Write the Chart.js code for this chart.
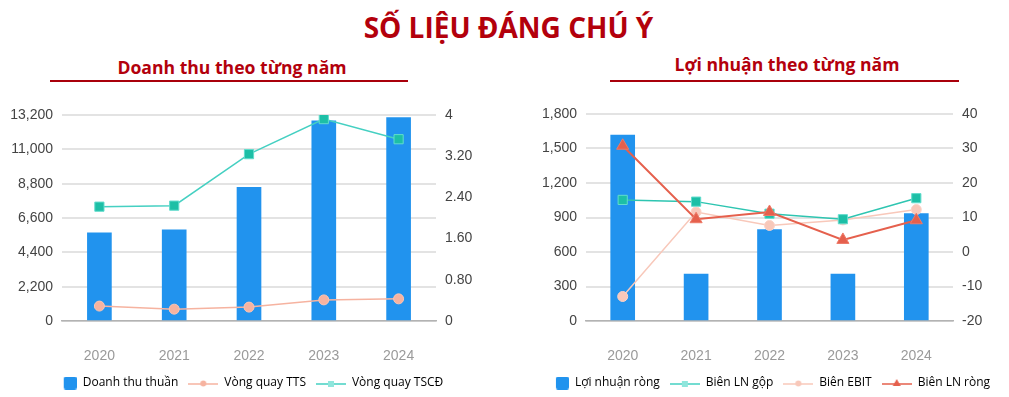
<!DOCTYPE html>
<html lang="vi">
<head>
<meta charset="utf-8">
<script src="https://cdn.jsdelivr.net/npm/chart.js@4.4.1/dist/chart.umd.min.js"></script>
<style>
  html, body { margin: 0; padding: 0; background: #fff; }
  body { width: 1009px; height: 397px; position: relative; overflow: hidden; font-family: "Open Sans", sans-serif; }
  .title { position: absolute; left: 0; width: 1017px; top: 13px; text-align: center; font-size: 28px; line-height: 28px; font-weight: 700; color: #b3000c; }
  .sub { position: absolute; font-size: 17.6px; line-height: 17px; font-weight: 700; color: #b3000c; text-align: center; }
  .rule { position: absolute; height: 2px; background: #a9000b; }
  .box { position: absolute; top: 95px; height: 304px; }
</style>
</head>
<body>
<div class="title">SỐ LIỆU ĐÁNG CHÚ Ý</div>
<div class="sub" style="left:50px;width:364px;top:59px;">Doanh thu theo từng năm</div>
<div class="rule" style="left:50px;width:358px;top:80px;"></div>
<div class="sub" style="left:610px;width:354px;top:56px;">Lợi nhuận theo từng năm</div>
<div class="rule" style="left:610px;width:349px;top:80px;"></div>

<div class="box" style="left:0;width:490px;"><canvas id="revChart"></canvas></div>
<div class="box" style="left:520px;width:489px;"><canvas id="profitChart"></canvas></div>

<script>
// data
const years = ["2020", "2021", "2022", "2023", "2024"];

const revenue = [5650, 5840, 8560, 12830, 13030];
const assetTurnover = [0.29, 0.23, 0.27, 0.41, 0.43];
const fixedAssetTurnover = [2.22, 2.24, 3.24, 3.92, 3.53];
const revLeftTicks = ["0", "2,200", "4,400", "6,600", "8,800", "11,000", "13,200"];
const revRightTicks = ["0", "0.80", "1.60", "2.40", "3.20", "4"];

const netProfit = [1617, 409, 795, 409, 934];
const grossMargin = [15.1, 14.6, 11.1, 9.5, 15.6];
const ebitMargin = [-12.9, 11.6, 7.7, 9.3, 12.3];
const netMargin = [30.8, 9.5, 11.6, 3.5, 9.2];
const profitLeftTicks = ["0", "300", "600", "900", "1,200", "1,500", "1,800"];
const profitRightTicks = ["-20", "-10", "0", "10", "20", "30", "40"];

const BLUE = "#2193ee";
const TEAL_LINE = "#45d0c2";
const TEAL_PT = "#1dbfa6";
const SALMON = "#f6b3a0";
const PINK = "#f8c8ba";
const RED = "#e5604d";

// little canvases used as legend icons
function barIcon(color) {
  const c = document.createElement("canvas");
  c.width = 30; c.height = 13;
  const g = c.getContext("2d");
  g.fillStyle = color;
  g.beginPath();
  g.roundRect(17, 0, 13, 13, 2);
  g.fill();
  return c;
}

function lineIcon(color, marker, markerColor) {
  const c = document.createElement("canvas");
  c.width = 30; c.height = 12;
  const g = c.getContext("2d");
  g.strokeStyle = color;
  g.lineWidth = 1.5;
  g.beginPath(); g.moveTo(0, 7); g.lineTo(30, 7); g.stroke();
  g.fillStyle = markerColor;
  g.beginPath();
  if (marker === "rect") g.rect(12, 4, 6, 6);
  else if (marker === "triangle") { g.moveTo(15, 2); g.lineTo(19, 9); g.lineTo(11, 9); g.closePath(); }
  else g.arc(15, 6.5, 3, 0, Math.PI * 2);
  g.fill();
  return c;
}

function legendWith(icons) {
  return {
    position: "bottom",
    labels: {
      usePointStyle: true,
      pointStyleWidth: 30,
      padding: 10,
      color: "#555",
      font: { family: "Open Sans", size: 12 },
      generateLabels: (chart) =>
        chart.data.datasets.map((ds, i) => ({
          text: ds.label,
          pointStyle: icons[i],
          fillStyle: "transparent",
          strokeStyle: "transparent",
          lineWidth: 0,
          hidden: false,
          datasetIndex: i,
        })),
    },
  };
}

function axes(leftTicks, leftMin, leftMax, leftStep, leftW, rightTicks, rightMin, rightMax, rightStep, rightW) {
  const tickFont = { family: "Liberation Sans", size: 14 };
  return {
    x: {
      grid: { display: false, drawTicks: false },
      border: { display: true, color: "#b3b3b3", width: 1.5 },
      ticks: { color: "#9a9a9a", font: tickFont, padding: 27 },
      afterFit: (s) => { s.height = 46; },
    },
    y: {
      position: "left",
      min: leftMin, max: leftMax,
      ticks: { stepSize: leftStep, padding: 9, color: "#444", font: tickFont, callback: (v, i) => leftTicks[i] },
      grid: { color: "#e3e3e3", lineWidth: 2, drawTicks: false },
      border: { display: false },
      afterFit: (s) => { s.width = leftW; },
    },
    y1: {
      position: "right",
      min: rightMin, max: rightMax,
      ticks: { stepSize: rightStep, padding: 9, color: "#444", font: tickFont, callback: (v, i) => rightTicks[i] },
      grid: { display: false, drawTicks: false },
      border: { display: false },
      afterFit: (s) => { s.width = rightW; },
    },
  };
}

new Chart(document.getElementById("revChart"), {
  type: "bar",
  data: {
    labels: years,
    datasets: [
      { label: "Doanh thu thuần", data: revenue, backgroundColor: BLUE, barThickness: 24, order: 2 },
      {
        type: "line", label: "Vòng quay TTS", data: assetTurnover, yAxisID: "y1", order: 1,
        borderColor: SALMON, borderWidth: 1.5, pointStyle: "circle", pointRadius: 5,
        pointBackgroundColor: SALMON, pointBorderColor: "#fac6b6", pointBorderWidth: 1,
      },
      {
        type: "line", label: "Vòng quay TSCĐ", data: fixedAssetTurnover, yAxisID: "y1", order: 0,
        borderColor: TEAL_LINE, borderWidth: 1.5, pointStyle: "rect", pointRadius: 6.5,
        pointBackgroundColor: TEAL_PT, pointBorderColor: "#62dccd", pointBorderWidth: 1,
      },
    ],
  },
  options: {
    responsive: true,
    maintainAspectRatio: false,
    animation: false,
    layout: { padding: { top: 20, bottom: 0, left: 0, right: 0 } },
    plugins: {
      legend: legendWith([barIcon(BLUE), lineIcon(SALMON, "circle", SALMON), lineIcon(TEAL_LINE, "rect", "#8fe6dc")]),
      tooltip: { enabled: false },
    },
    scales: axes(revLeftTicks, 0, 13200, 2200, 62, revRightTicks, 0, 4, 0.8, 54),
  },
});

new Chart(document.getElementById("profitChart"), {
  type: "bar",
  data: {
    labels: years,
    datasets: [
      { label: "Lợi nhuận ròng", data: netProfit, backgroundColor: BLUE, barThickness: 24, order: 4 },
      {
        type: "line", label: "Biên LN gộp", data: grossMargin, yAxisID: "y1", order: 2,
        borderColor: "#2ec5b1", borderWidth: 1.5, pointStyle: "rect", pointRadius: 6.5,
        pointBackgroundColor: TEAL_PT, pointBorderColor: "#62dccd", pointBorderWidth: 1,
      },
      {
        type: "line", label: "Biên EBIT", data: ebitMargin, yAxisID: "y1", order: 3,
        borderColor: PINK, borderWidth: 1.5, pointStyle: "circle", pointRadius: 5,
        pointBackgroundColor: PINK, pointBorderColor: "#fbd3c8", pointBorderWidth: 1,
      },
      {
        type: "line", label: "Biên LN ròng", data: netMargin, yAxisID: "y1", order: 1,
        borderColor: RED, borderWidth: 2, pointStyle: "triangle", pointRadius: 7,
        pointBackgroundColor: RED, pointBorderColor: "#ee7a68", pointBorderWidth: 1,
      },
    ],
  },
  options: {
    responsive: true,
    maintainAspectRatio: false,
    animation: false,
    layout: { padding: { top: 19, bottom: 0, left: 0, right: 0 } },
    plugins: {
      legend: legendWith([barIcon(BLUE), lineIcon(TEAL_LINE, "rect", "#8fe6dc"), lineIcon(PINK, "circle", PINK), lineIcon(RED, "triangle", RED)]),
      tooltip: { enabled: false },
    },
    scales: axes(profitLeftTicks, 0, 1800, 300, 66, profitRightTicks, -20, 40, 10, 56),
  },
});
</script>
</body>
</html>
